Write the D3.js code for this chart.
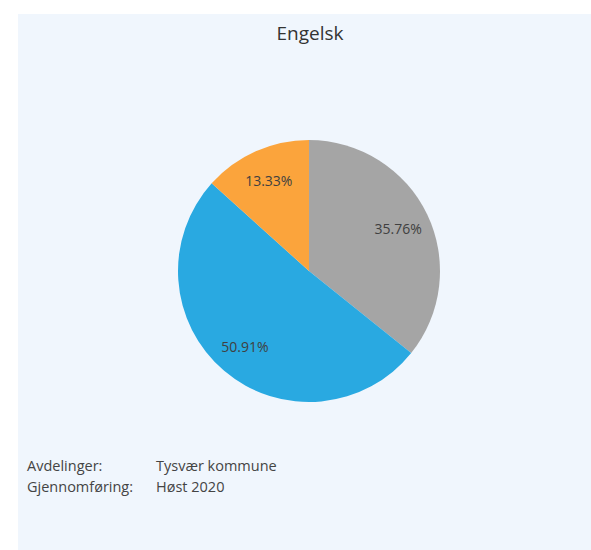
<!DOCTYPE html>
<html>
<head>
<meta charset="utf-8">
<script src="https://cdn.jsdelivr.net/npm/d3@7"></script>
<style>
  html, body { margin: 0; padding: 0; background: #ffffff; }
  svg { display: block; }
</style>
</head>
<body>
<svg id="chart" width="591" height="550"></svg>
<script>
const categories = ["Grå", "Blå", "Oransje"];
const values = [35.76, 50.91, 13.33];
const labels = ["35.76%", "50.91%", "13.33%"];
const colors = ["#a5a5a5", "#29a9e1", "#fba43c"];
const title = "Engelsk";
const infoKeys = ["Avdelinger:", "Gjennomføring:"];
const infoVals = ["Tysvær kommune", "Høst 2020"];

const svg = d3.select("#chart");
const W = 591, H = 550;

svg.append("rect").attr("x", 18).attr("y", 14).attr("width", W - 18).attr("height", H - 14)
  .attr("fill", "#f0f6fd");

svg.append("text").attr("x", 310).attr("y", 40).attr("text-anchor", "middle")
  .attr("font-family", "Open Sans, sans-serif").attr("font-size", 19).attr("fill", "#333")
  .text(title);

const cx = 309, cy = 271, R = 131;
const pie = d3.pie().sort(null).value(d => d)(values);
const arc = d3.arc().innerRadius(0).outerRadius(R);
const labelArc = d3.arc().innerRadius(R * 0.755).outerRadius(R * 0.755);

const g = svg.append("g").attr("transform", `translate(${cx},${cy})`);
g.selectAll("path").data(pie).join("path")
  .attr("d", arc).attr("fill", (d, i) => colors[i]);
g.selectAll("text").data(pie).join("text")
  .attr("transform", d => `translate(${labelArc.centroid(d)})`)
  .attr("text-anchor", "middle").attr("dominant-baseline", "central")
  .attr("font-family", "Open Sans, sans-serif").attr("font-size", 14).attr("fill", "#404040")
  .text((d, i) => labels[i]);

const info = svg.append("g").attr("font-family", "Open Sans, sans-serif").attr("font-size", 14.5).attr("fill", "#444");
infoKeys.forEach((k, i) => {
  info.append("text").attr("x", 27).attr("y", 471 + i * 21).text(k);
  info.append("text").attr("x", 156).attr("y", 471 + i * 21).text(infoVals[i]);
});
</script>
</body>
</html>
